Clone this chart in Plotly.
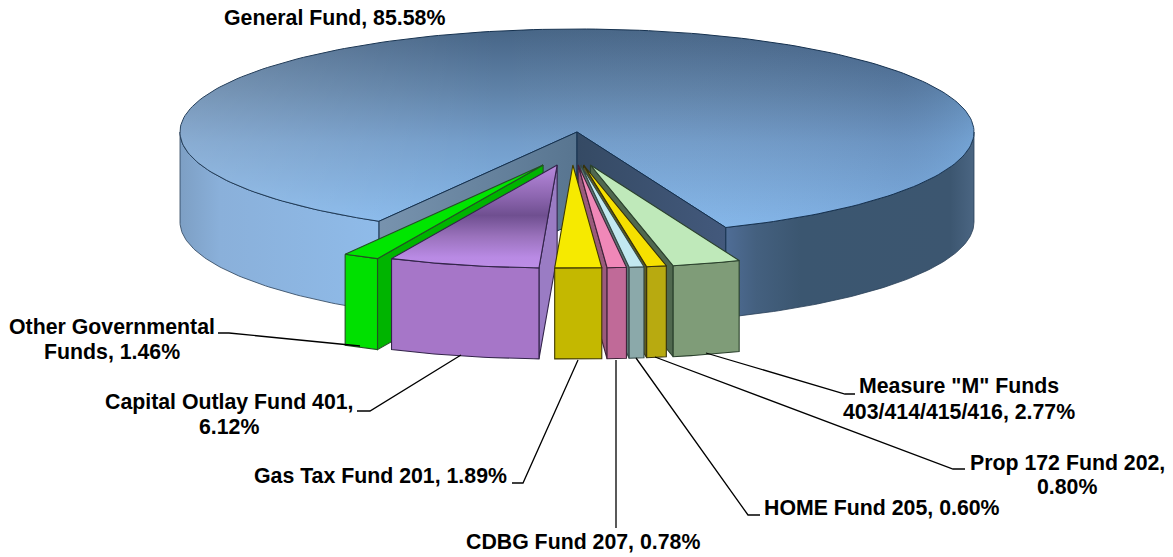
import math
import plotly.graph_objects as go

# ---- data ----
general_fund_share = 85.58
general_fund_label = "General Fund, 85.58%"
fund_names = ["Measure M", "Prop 172", "HOME", "CDBG", "Gas Tax", "Capital Outlay", "Other Governmental"]
fund_shares = [2.77, 0.80, 0.60, 0.78, 1.89, 6.12, 1.46]
top_colors = ["#bfe9ba", "#f6e000", "#c2e8f0", "#f088b8", "#f6ea00", "#b98be0", "#00e600"]
front_colors = ["#7f9c78", "#b8aa10", "#8ba9aa", "#c06a98", "#c4b800", "#a676c8", "#00e000"]
side_colors = ["#50684f", "#5f5a1c", "#5c7674", "#9a5a7c", "#a89000", "#9a7cc4", "#00b400"]
edge_colors = ["#2a402c", "#332f0c", "#344846", "#40243a", "#403a00", "#33244a", "#245024"]

label_lines = [
    ("General Fund, 85.58%", 334, 18),
    ("Other Governmental", 112, 327), ("Funds, 1.46%", 112, 352),
    ("Capital Outlay Fund 401,", 229, 402), ("6.12%", 229, 427),
    ("Gas Tax Fund 201, 1.89%", 380, 476),
    ("CDBG Fund 207, 0.78%", 583, 542),
    ("HOME Fund 205, 0.60%", 882, 508),
    ('Prop 172 Fund 202,', 1067, 463), ("0.80%", 1067, 487),
    ('Measure "M" Funds', 959, 386), ("403/414/415/416, 2.77%", 959, 412),
]
leaders = [
    [(218, 333), (229, 333), (360, 346)],
    [(357, 411), (370, 411), (461, 355)],
    [(512, 483), (523, 483), (578, 360)],
    [(616, 360), (616, 528)],
    [(636, 358), (748, 515), (760, 515)],
    [(655, 357), (953, 469), (965, 469)],
    [(706, 353), (845, 394), (855, 394)],
]

# ---- projection of the tilted pie ----
CX, CY, RX, RY, DEPTH = 577, 132, 397, 103, 90
START = 22.0           # angle of the first slice edge, measured from straight down
TIP_X, TIP_Y, PULL = 572, 165, 63
SLICE_DEPTH = 91


def arc(cx, cy, a0, a1, dy=0, n=80):
    pts = [a0 + (a1 - a0) * i / n for i in range(n + 1)]
    return ([cx + RX * math.sin(math.radians(a)) for a in pts],
            [cy + dy + RY * math.cos(math.radians(a)) for a in pts])


fig = go.Figure()


def poly(x, y, fill=None, grad=None, line="#1f3550", lw=1.0):
    kw = dict(x=list(x) + [x[0]], y=list(y) + [y[0]], mode="lines", fill="toself",
              hoverinfo="skip", showlegend=False)
    kw["line"] = dict(color=line, width=lw) if line else dict(width=0, color="rgba(0,0,0,0)")
    if grad:
        kw["fillgradient"] = grad
    else:
        kw["fillcolor"] = fill
    fig.add_trace(go.Scatter(**kw))


def vgrad(y0, y1, stops):
    return dict(type="vertical", start=y0, stop=y1, colorscale=stops)


def hgrad(x0, x1, stops):
    return dict(type="horizontal", start=x0, stop=x1, colorscale=stops)


end_angle = START + 360 * general_fund_share / 100
left_edge = end_angle - 360

# outer wall of the large slice
for a0, a1, grad in [
    (-90, left_edge, hgrad(180, 380, [[0, "#7d9fc4"], [0.2, "#8ab0da"], [1, "#8fbbe9"]])),
    (START, 90, hgrad(726, 975, [[0, "#4f6d96"], [0.12, "#44607f"], [0.3, "#3b5670"], [0.9, "#3c5670"], [1, "#4b6683"]])),
]:
    tx, ty = arc(CX, CY, a0, a1)
    bx, by = arc(CX, CY, a1, a0, DEPTH)
    poly(tx + bx, ty + by, grad=grad, line="#2a4058", lw=0.8)

# top of the large slice
tx, ty = arc(CX, CY, START, end_angle, n=240)
poly(tx + [CX], ty + [CY], grad=vgrad(28, 236, [[0, "#466485"], [0.3, "#5f82a8"], [0.55, "#739dca"], [1, "#88bcf0"]]), line="#14304e", lw=1.0)
poly(tx + [CX], ty + [CY], grad=hgrad(180, 975, [[0, "rgba(255,255,255,0.16)"], [0.4, "rgba(255,255,255,0)"], [0.9, "rgba(20,40,90,0.08)"], [1, "rgba(120,190,255,0.18)"]]), line=None)

# inner walls of the large slice
for a, grad in [
    (left_edge, hgrad(378, 577, [[0, "#7893ae"], [1, "#587590"]])),
    (START, hgrad(577, 726, [[0, "#354a64"], [1, "#43597c"]])),
]:
    ex, ey = arc(CX, CY, a, a, n=1)
    poly([CX, ex[0], ex[0], CX], [CY, ey[0], ey[0] + DEPTH, CY + DEPTH], grad=grad, line="#14304e", lw=1.0)

# exploded slices
angles = []
a = START
for share in fund_shares:
    angles.append((a, a - 360 * share / 100))
    a = angles[-1][1]

draw_order = [6, 5, 0, 1, 2, 3, 4]
for i in draw_order:
    a0, a1 = angles[i]
    mid = (a0 + a1) / 2
    tip_x = TIP_X + PULL * math.sin(math.radians(mid))
    tip_y = TIP_Y
    edge = edge_colors[i]
    # radial face
    face = a1 if a1 > 0 else (a0 if a0 < 0 else None)
    if face is not None:
        ex, ey = arc(tip_x, tip_y, face, face, n=1)
        poly([tip_x, ex[0], ex[0], tip_x], [tip_y, ey[0], ey[0] + SLICE_DEPTH, tip_y + SLICE_DEPTH],
             fill=side_colors[i], line=edge, lw=1.1)
    # rim
    tx, ty = arc(tip_x, tip_y, a1, a0, n=30)
    bx, by = arc(tip_x, tip_y, a0, a1, SLICE_DEPTH, n=30)
    poly(tx + bx, ty + by, fill=front_colors[i], line=edge, lw=1.1)
    # top
    if fund_names[i] == "Capital Outlay":
        g = vgrad(165, 270, [[0, "#b88ade"], [0.3, "#8d66b0"], [0.48, "#6f4f90"], [0.68, "#9a72bc"], [0.88, "#b98ae4"], [1, "#bc8ee6"]])
        poly(tx + [tip_x], ty + [tip_y], grad=g, line=edge, lw=1.1)
    else:
        poly(tx + [tip_x], ty + [tip_y], fill=top_colors[i], line=edge, lw=1.1)

# leader lines
for pts in leaders:
    fig.add_trace(go.Scatter(x=[p[0] for p in pts], y=[p[1] for p in pts], mode="lines",
                             line=dict(color="#000000", width=1.3), hoverinfo="skip", showlegend=False))

annotations = [dict(text="<b>" + t + "</b>", x=x, y=y, xref="x", yref="y", showarrow=False,
                    xanchor="center", yanchor="middle",
                    font=dict(family="Liberation Sans, Arial, sans-serif", size=21.3, color="#000000"))
               for t, x, y in label_lines]

fig.update_layout(
    width=1173, height=557, margin=dict(l=0, r=0, t=0, b=0),
    paper_bgcolor="#ffffff", plot_bgcolor="#ffffff", annotations=annotations,
    xaxis=dict(range=[0, 1173], visible=False, fixedrange=True),
    yaxis=dict(range=[557, 0], visible=False, fixedrange=True),
)
fig.write_html("out.html", post_script="document.body.style.margin='0';document.documentElement.style.overflow='hidden';",
               config={"displayModeBar": False})
